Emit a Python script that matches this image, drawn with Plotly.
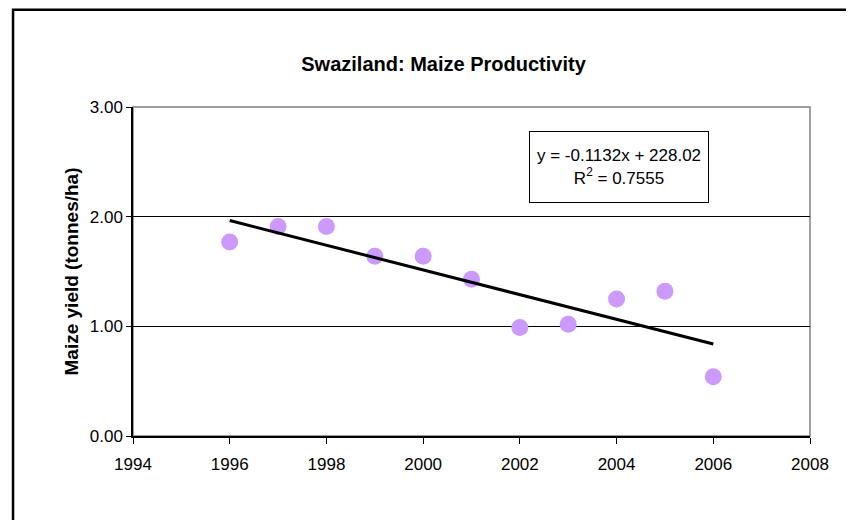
import numpy as np
import plotly.graph_objects as go

## Data
years = [1996, 1997, 1998, 1999, 2000, 2001, 2002, 2003, 2004, 2005, 2006]
yield_t_ha = [1.77, 1.91, 1.91, 1.64, 1.64, 1.43, 0.99, 1.02, 1.25, 1.32, 0.54]
y_ticks = [0, 1, 2, 3]
y_tick_labels = ["0.00", "1.00", "2.00", "3.00"]
x_ticks = [1994, 1996, 1998, 2000, 2002, 2004, 2006, 2008]
trend_label = "y = -0.1132x + 228.02<br>R<sup>2</sup> = 0.7555"

# linear trendline (as Excel does)
slope, icpt = np.polyfit(years, yield_t_ha, 1)
trend_x = [years[0], years[-1]]
trend_y = [slope * x + icpt for x in trend_x]

FONT = "Liberation Sans, Arial, sans-serif"

fig = go.Figure()
fig.add_trace(go.Scatter(
    x=years, y=yield_t_ha, mode="markers",
    marker=dict(color="#CC99FF", size=17, line=dict(width=0)),
    showlegend=False, cliponaxis=False,
))
fig.add_trace(go.Scatter(
    x=trend_x, y=trend_y, mode="lines",
    line=dict(color="black", width=3),
    showlegend=False,
))

# page body adds ~8px offset, margins compensate for it
fig.update_layout(
    width=854, height=520,
    margin=dict(l=125, r=52, t=99, b=92),
    paper_bgcolor="white", plot_bgcolor="white",
    font=dict(family=FONT, color="black", size=17),
    title=dict(text="<b>Swaziland: Maize Productivity</b>", x=0.51, xanchor="center",
               y=0.893, yanchor="middle", font=dict(size=20)),
    shapes=[
        # plot area border (grey top/right)
        dict(type="rect", xref="paper", yref="paper", x0=0, x1=1, y0=0, y1=1,
             line=dict(color="#808080", width=1.5), layer="below"),
        # outer chart frame (cut off at right/bottom)
        dict(type="rect", xref="paper", yref="paper", x0=-0.1772, x1=1.08, y0=-0.3, y1=1.2955,
             line=dict(color="black", width=2.5)),
    ],
    annotations=[dict(
        text=trend_label, x=2004.05, y=2.45, xref="x", yref="y",
        showarrow=False, align="center", font=dict(size=17),
        bordercolor="black", borderwidth=1, borderpad=3,
        width=172, height=64, bgcolor="white",
    )],
)
fig.update_xaxes(
    range=[1994, 2008], tickvals=x_ticks, showgrid=False, zeroline=False,
    showline=True, linecolor="black", linewidth=1.5,
    ticks="outside", ticklen=6, tickcolor="black", tickwidth=1,
    tickfont=dict(size=17), ticklabelstandoff=6,
)
fig.update_yaxes(
    range=[0, 3], tickvals=y_ticks, ticktext=y_tick_labels,
    showgrid=True, gridcolor="black", gridwidth=1, zeroline=False,
    showline=True, linecolor="black", linewidth=1.5,
    ticks="outside", ticklen=5, tickcolor="black", tickwidth=1,
    tickfont=dict(size=17),
    title=dict(text="<b>Maize yield (tonnes/ha)</b>", font=dict(size=19), standoff=6),
)

fig.write_html("out.html")
